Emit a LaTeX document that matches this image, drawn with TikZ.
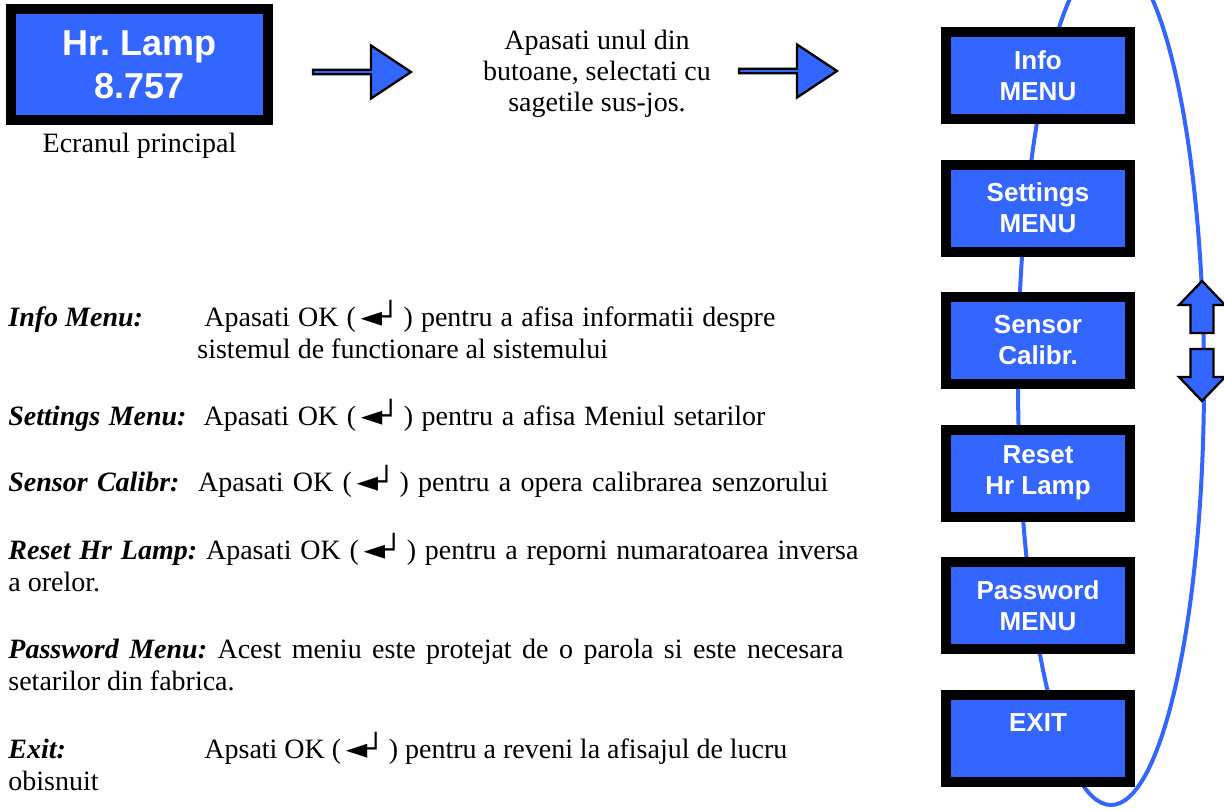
\documentclass[tikz,border=0pt]{standalone}
\usepackage{fontspec}
\setmainfont{Liberation Serif}
\setsansfont{Liberation Sans}
\newfontfamily\symfont{DejaVu Sans}
\usetikzlibrary{positioning, calc}
\frenchspacing
\definecolor{menublue}{RGB}{51,102,255}
\newcommand{\okkey}{(\,{\symfont\fontsize{14}{16}\selectfont ◄┘}\,)}
\newcommand{\itm}[1]{\textbf{\textit{#1}}}
\newcommand{\fitline}[2]{\makebox[#1][s]{#2}}
\tikzset{
    menubox/.style={
        rectangle,
        draw=black,
        line width=5pt,
        fill=menublue,
        text=white,
        align=center,
        inner sep=0pt,
        minimum width=92pt,
        minimum height=43.5pt,
        font=\sffamily\bfseries\fontsize{13}{15.5}\selectfont
    },
    mainbox/.style={
        menubox,
        minimum width=128.5pt,
        minimum height=55.5pt,
        font=\sffamily\bfseries\fontsize{18}{21.5}\selectfont
    },
    caption/.style={
        inner sep=0pt,
        font=\fontsize{14}{15.5}\selectfont
    },
    desc/.style={
        anchor=base west,
        inner sep=0pt,
        font=\fontsize{14}{16}\selectfont
    },
    loopline/.style={
        draw=menublue,
        line width=2pt
    },
    blockarrow/.style={
        draw=black,
        line width=1.15pt,
        fill=menublue,
        line join=miter
    },
    pics/fatright/.style={code={
        \draw[blockarrow] (0,-2.2) -- (58,-2.2) -- (58,-26.5) -- (98,0) -- (58,26.5) -- (58,2.2) -- (0,2.2) -- cycle;
    }},
    pics/fatup/.style={code={
        \draw[blockarrow] (0,0) -- (23,24) -- (11.5,24) -- (11.5,52) -- (-11.5,52) -- (-11.5,24) -- (-23,24) -- cycle;
    }}
}

\begin{document}
\begin{tikzpicture}[x=0.5pt, y=-0.5pt]
\useasboundingbox (0,0) rectangle (1224,809);
\clip (0,0) rectangle (1224,809);

% Selection loop behind the menu column
\draw[loopline] (1111,380) ellipse [x radius=46.5pt, y radius=212.5pt];

% Main screen
\node[mainbox] (lamp) at (139.5,64.5) {Hr. Lamp\\8.757};
\node[caption, anchor=base] (lampcap) at ($(lamp.south)+(0,27)$) {Ecranul principal};

% Hint
\pic at (313,72) {fatright};
\node[caption, align=center] (hint) at (597,74) {Apasati unul din\\butoane, selectati cu\\sagetile sus-jos.};
\pic at (739,71) {fatright};

% Menu column
\node[menubox] (info) at (1038,75.5) {Info\\MENU};
\node[menubox, below=17.75pt of info] (settings) {Settings\\MENU};
\node[menubox, below=17.75pt of settings] (sensor) {Sensor\\Calibr.};
\node[menubox, below=17.75pt of sensor] (reset) {Reset\\Hr Lamp};
\node[menubox, below=17.75pt of reset] (password) {Password\\MENU};
\node[menubox, below=17.75pt of password] (exit) {EXIT\\\mbox{}};

% Up / down keys
\pic at (1202,281) {fatup};
\pic[rotate=180] at (1202,401) {fatup};

% Descriptions
\node[desc] (infolbl) at (8,326) {\itm{Info Menu:}};
\node[desc] (infotxt) at (204,326) {\fitline{285.5pt}{Apasati OK \okkey{} pentru a afisa informatii despre}};
\node[desc] (infotxt2) at (197,358) {sistemul de functionare al sistemului};

\node[desc] (settingstxt) at (8,425) {\fitline{378.5pt}{\itm{Settings Menu:}\ \ Apasati OK \okkey{} pentru a afisa Meniul setarilor}};

\node[desc] (sensortxt) at (8,491) {\fitline{410pt}{\itm{Sensor Calibr:}\ \ Apasati OK \okkey{} pentru a opera calibrarea senzorului}};

\node[desc] (resettxt) at (8,559) {\fitline{425pt}{\itm{Reset Hr Lamp:} Apasati OK \okkey{} pentru a reporni numaratoarea inversa}};
\node[desc] (resettxt2) at (8,591) {a orelor.};

\node[desc] (passwordtxt) at (8,658) {\fitline{417.5pt}{\itm{Password Menu:} Acest meniu este protejat de o parola si este necesara}};
\node[desc] (passwordtxt2) at (8,690) {setarilor din fabrica.};

\node[desc] (exitlbl) at (8,758) {\itm{Exit:}};
\node[desc] (exittxt) at (204,758) {\fitline{291.5pt}{Apsati OK \okkey{} pentru a reveni la afisajul de lucru}};
\node[desc] (exittxt2) at (8,790) {obisnuit};

\end{tikzpicture}
\end{document}
